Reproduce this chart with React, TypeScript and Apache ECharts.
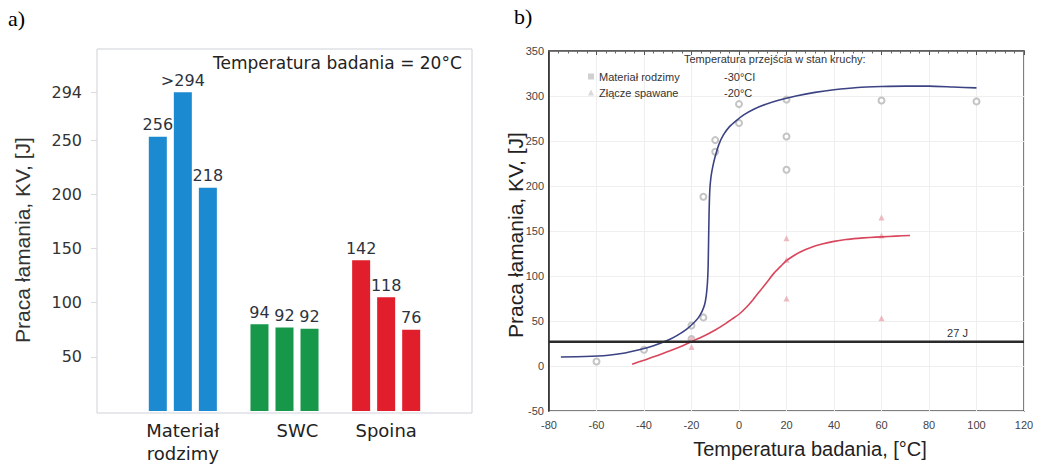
import React, { useEffect, useRef } from 'react';
import * as echarts from 'echarts';

// ---------- panel a) ----------
const categories = ['Materiał\nrodzimy', 'SWC', 'Spoina'];
const groupColors = ['#1b8ad0', '#16974a', '#e11e2b'];
const barHeights1 = [253, 80, 139];
const barHeights2 = [294, 77, 105];
const barHeights3 = [206, 76, 75];
const barLabels1 = ['256', '94', '142'];
const barLabels2 = ['>294', '92', '118'];
const barLabels3 = ['218', '92', '76'];
const yTicksA = [50, 100, 150, 200, 250, 294];

// ---------- panel b) ----------
const mrCurve: [number, number][] = [
  [-75, 10], [-65, 10.5], [-55, 12], [-48, 14.5], [-42, 18], [-36, 22.5], [-30, 28.5],
  [-26, 34], [-22, 41], [-19, 48], [-17, 54], [-15.5, 61], [-14.5, 68], [-13.8, 78],
  [-13.3, 92], [-13, 110], [-12.8, 140], [-12.6, 170], [-12.3, 195], [-11.8, 210],
  [-11, 222], [-10, 233], [-8.5, 246], [-6.5, 257], [-4, 266], [-1, 273], [2, 279],
  [6, 285], [11, 290.5], [17, 295.5], [24, 300], [32, 304], [40, 307], [50, 309.5],
  [60, 310.5], [70, 311], [80, 311], [90, 310], [100, 309],
];
const zsCurve: [number, number][] = [
  [-45, 2], [-40, 6.5], [-35, 11], [-30, 16], [-25, 21], [-20, 27], [-15, 33], [-10, 40],
  [-6, 46.5], [-3, 52], [0, 57.5], [3, 65], [6, 74], [9, 84], [12, 94], [15, 104],
  [18, 112], [20, 117], [23, 122.5], [26, 127], [30, 131.5], [35, 135.5], [40, 138.5],
  [45, 140.5], [50, 141.8], [55, 142.8], [60, 143.5], [66, 144.3], [72, 145],
];
const mrPoints: [number, number][] = [
  [-60, 5], [-40, 18], [-20, 45], [-20, 30], [-15, 54], [-15, 188], [-10, 251],
  [-10, 238], [0, 291], [0, 270], [20, 296], [20, 255], [20, 218], [60, 295], [100, 294],
];
const zsPoints: [number, number][] = [
  [-20, 31], [-20, 21], [20, 142], [20, 118], [20, 75], [60, 165], [60, 145], [60, 53],
];
const limitKV = 27;
const legendNames = ['Materiał rodzimy', 'Złącze spawane'];
const legendTemps = ['-30°CI', '-20°C'];

const SANS = 'Liberation Sans, Arial, sans-serif';
const WIDE = 'DejaVu Sans, sans-serif';

function barSeries(heights: number[], labels: string[]) {
  return {
    type: 'bar',
    xAxisIndex: 0,
    yAxisIndex: 0,
    barWidth: 18,
    barGap: '39%',
    data: heights.map((v, i) => ({ value: v, itemStyle: { color: groupColors[i] } })),
    label: {
      show: true,
      position: 'top',
      distance: 4,
      formatter: (p: any) => labels[p.dataIndex],
      fontSize: 16,
      fontFamily: WIDE,
      color: '#2d3340',
    },
  };
}

export default function App() {
  const ref = useRef<HTMLDivElement>(null);
  useEffect(() => {
    const chart = echarts.init(ref.current!, null, { renderer: 'svg' });
    const option: any = {
      animation: false,
      backgroundColor: '#ffffff',
      title: [
        { text: 'a)', left: 8, top: 7, padding: 0, textStyle: { fontFamily: 'Liberation Serif, serif', fontSize: 22, fontWeight: 'normal', color: '#000' } },
        { text: 'b)', left: 514, top: 5, padding: 0, textStyle: { fontFamily: 'Liberation Serif, serif', fontSize: 22, fontWeight: 'normal', color: '#000' } },
        { text: 'Temperatura badania = 20°C', left: 213, top: 54, padding: 0, textStyle: { fontFamily: WIDE, fontSize: 17, fontWeight: 'normal', color: '#222' } },
        { text: 'Temperatura przejścia w stan kruchy:', left: 684, top: 53, padding: 0, textStyle: { fontFamily: SANS, fontSize: 11, fontWeight: 'normal', color: '#333' } },
      ],
      legend: {
        left: 583,
        top: 66,
        orient: 'vertical',
        itemWidth: 6,
        itemHeight: 6,
        itemGap: 5,
        selectedMode: false,
        data: [
          { name: legendNames[0], icon: 'rect', itemStyle: { color: '#c4c4c4', borderWidth: 0 } },
          { name: legendNames[1], icon: 'triangle', itemStyle: { color: '#d0d0d0', borderWidth: 0 } },
        ],
        formatter: (name: string) => `{a|${name}}{b|${legendTemps[legendNames.indexOf(name)]}}`,
        textStyle: {
          fontFamily: SANS,
          fontSize: 11,
          color: '#333',
          rich: {
            a: { width: 125, fontFamily: SANS, fontSize: 11, color: '#333' },
            b: { fontFamily: SANS, fontSize: 11, color: '#333' },
          },
        },
      },
      grid: [
        { left: 132, width: 305, top: 49, height: 364 },
        { left: 549, width: 475, top: 51, height: 360, show: true, borderColor: '#555', borderWidth: 1.5, backgroundColor: 'transparent' },
      ],
      xAxis: [
        {
          type: 'category',
          gridIndex: 0,
          data: categories,
          axisLine: { show: false },
          axisTick: { show: false },
          axisLabel: {
            interval: 0,
            hideOverlap: false,
            margin: 8,
            fontSize: 18,
            fontFamily: WIDE,
            color: '#222',
            lineHeight: 23,
            formatter: (v: string) => (v === 'SWC' ? '{s|SWC}' : v),
            rich: { s: { padding: [0, 0, 0, 26], fontSize: 18, fontFamily: WIDE, color: '#222' } },
          },
        },
        {
          type: 'value',
          gridIndex: 1,
          min: -80,
          max: 120,
          interval: 20,
          axisLine: { show: false, onZero: false },
          axisTick: { show: false },
          axisLabel: { margin: 8, fontSize: 11, fontFamily: SANS, color: '#444' },
          splitLine: { show: true, lineStyle: { color: '#efefef', width: 1 } },
        },
        {
          type: 'value',
          gridIndex: 1,
          position: 'top',
          min: -80,
          max: 120,
          interval: 20,
          axisLine: { show: true, onZero: false, lineStyle: { color: '#555', width: 1.5 } },
          axisTick: { show: true, inside: true, length: 4, lineStyle: { color: '#555' } },
          minorTick: { show: true, splitNumber: 5, length: 2.5, lineStyle: { color: '#666' } },
          axisLabel: { show: false },
          splitLine: { show: false },
        },
      ],
      yAxis: [
        {
          type: 'value',
          gridIndex: 0,
          min: 0,
          max: 334,
          offset: 35,
          axisLine: { show: false, onZero: false },
          axisTick: { show: true, customValues: yTicksA, length: 6, lineStyle: { color: '#dcdcdc' } },
          axisLabel: { customValues: yTicksA, margin: 15, fontSize: 16, fontFamily: WIDE, color: '#333' },
          splitLine: { show: false },
        },
        {
          type: 'value',
          gridIndex: 1,
          min: -50,
          max: 350,
          interval: 50,
          axisLine: { show: true, onZero: false, lineStyle: { color: '#222', width: 1.5 } },
          axisTick: { show: false },
          axisLabel: { margin: 5, fontSize: 11, fontFamily: SANS, color: '#444' },
          splitLine: { show: true, lineStyle: { color: '#efefef', width: 1 } },
        },
      ],
      graphic: [
        { type: 'rect', z: 0, shape: { x: 97, y: 49, width: 375, height: 364 }, style: { fill: 'none', stroke: '#cdd1d8', lineWidth: 1 } },
        { type: 'text', x: 22, y: 240, rotation: Math.PI / 2, style: { text: 'Praca łamania, KV, [J]', fontSize: 21, fontFamily: SANS, fill: '#333', align: 'center', verticalAlign: 'middle' } },
        { type: 'text', x: 515, y: 235, rotation: Math.PI / 2, style: { text: 'Praca łamania, KV, [J]', fontSize: 21, fontFamily: SANS, fill: '#222', align: 'center', verticalAlign: 'middle' } },
        { type: 'text', x: 810, y: 449, style: { text: 'Temperatura badania, [°C]', fontSize: 20, fontFamily: SANS, fill: '#222', align: 'center', verticalAlign: 'middle' } },
      ],
      series: [
        barSeries(barHeights1, barLabels1),
        barSeries(barHeights2, barLabels2),
        barSeries(barHeights3, barLabels3),
        {
          name: legendNames[0],
          type: 'scatter',
          xAxisIndex: 1,
          yAxisIndex: 1,
          symbol: 'emptyCircle',
          symbolSize: 6,
          itemStyle: { color: '#b5b5b5', borderWidth: 1 },
          data: mrPoints,
        },
        {
          name: legendNames[1],
          type: 'scatter',
          xAxisIndex: 1,
          yAxisIndex: 1,
          symbol: 'triangle',
          symbolSize: 6,
          itemStyle: { color: '#e9a9b3' },
          data: zsPoints,
        },
        {
          name: 'krzywa MR',
          type: 'line',
          xAxisIndex: 1,
          yAxisIndex: 1,
          showSymbol: false,
          smooth: 0.2,
          lineStyle: { color: '#3c4383', width: 1.6 },
          data: mrCurve,
        },
        {
          name: 'krzywa ZS',
          type: 'line',
          xAxisIndex: 1,
          yAxisIndex: 1,
          showSymbol: false,
          smooth: 0.2,
          lineStyle: { color: '#d9465c', width: 1.6 },
          data: zsCurve,
        },
        {
          name: '27 J',
          type: 'line',
          xAxisIndex: 1,
          yAxisIndex: 1,
          showSymbol: false,
          lineStyle: { color: '#2a2a2a', width: 2.5 },
          data: [[-80, limitKV], [120, limitKV]],
          markPoint: {
            symbol: 'circle',
            symbolSize: 0,
            data: [{ coord: [92, limitKV + 10] }],
            label: { show: true, formatter: '27 J', fontSize: 11, fontFamily: SANS, color: '#333' },
          },
        },
      ],
    };
    chart.setOption(option);
    return () => chart.dispose();
  }, []);
  return <div ref={ref} style={{ position: 'absolute', left: 0, top: 0, width: 1043, height: 465 }} />;
}
